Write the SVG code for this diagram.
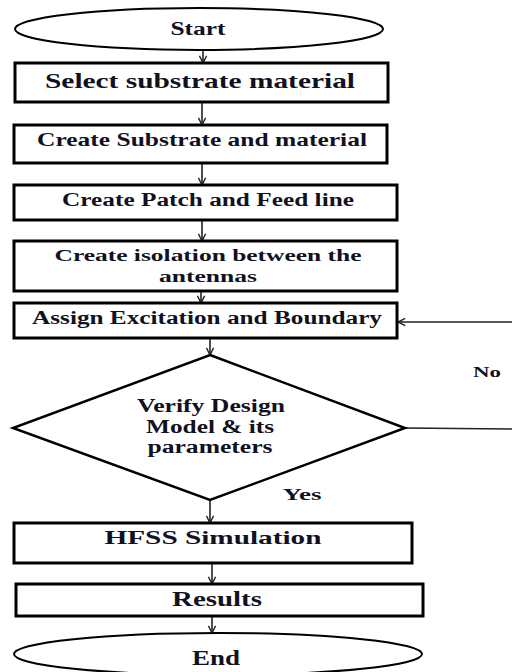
<svg xmlns="http://www.w3.org/2000/svg" width="512" height="672" viewBox="0 0 512 672">
<defs>
<marker id="ah" viewBox="0 0 10 10" refX="9" refY="5" markerWidth="9" markerHeight="9" markerUnits="userSpaceOnUse" orient="auto">
<path d="M1,1 L9,5 L1,9" fill="none" stroke="#222" stroke-width="1.6"/>
</marker>
<style>
.box{fill:#fff;stroke:#000;stroke-width:3}
.term{fill:#fff;stroke:#000;stroke-width:2}
.dia{fill:#fff;stroke:#000;stroke-width:2.5}
.t{font-family:"Liberation Serif","Times New Roman",serif;font-weight:bold;fill:#111122;text-anchor:middle}
.c{fill:none;stroke:#222;stroke-width:1.6;marker-end:url(#ah)}
.l{fill:none;stroke:#222;stroke-width:1.6}
</style>
</defs>
<rect width="512" height="672" fill="#fff"/>
<g id="connectors">
<line class="c" x1="203" y1="50" x2="203" y2="63"/>
<line class="c" x1="202" y1="102" x2="202" y2="125"/>
<line class="c" x1="202" y1="163" x2="202" y2="185"/>
<line class="c" x1="202" y1="220" x2="202" y2="241"/>
<line class="c" x1="201" y1="291" x2="201" y2="303"/>
<line class="c" x1="210" y1="338" x2="210" y2="355"/>
<line class="c" x1="210" y1="500" x2="210" y2="523"/>
<line class="c" x1="212" y1="563" x2="212" y2="584"/>
<line class="c" x1="212" y1="616" x2="212" y2="633"/>
<line class="l" x1="405" y1="428" x2="512" y2="429"/>
<line class="c" x1="512" y1="322" x2="398" y2="322"/>
<text class="t" x="487" y="377" font-size="15" textLength="28" lengthAdjust="spacingAndGlyphs">No</text>
<text class="t" x="302" y="500" font-size="17" textLength="39" lengthAdjust="spacingAndGlyphs">Yes</text>
</g>
<g id="start">
<ellipse class="term" cx="199" cy="29" rx="184" ry="21"/>
<text class="t" x="198" y="35" font-size="18" textLength="55" lengthAdjust="spacingAndGlyphs">Start</text>
</g>
<g id="select">
<rect class="box" x="15" y="63" width="373" height="39"/>
<text class="t" x="200" y="88" font-size="21" textLength="310" lengthAdjust="spacingAndGlyphs">Select substrate material</text>
</g>
<g id="substrate">
<rect class="box" x="14" y="125" width="373" height="38"/>
<text class="t" x="202" y="146" font-size="19" textLength="330" lengthAdjust="spacingAndGlyphs">Create Substrate and material</text>
</g>
<g id="patch">
<rect class="box" x="14" y="185" width="383" height="35"/>
<text class="t" x="208" y="206" font-size="18" textLength="292" lengthAdjust="spacingAndGlyphs">Create Patch and Feed line</text>
</g>
<g id="isolation">
<rect class="box" x="14" y="241" width="383" height="50"/>
<text class="t" x="208" y="261" font-size="17" textLength="307" lengthAdjust="spacingAndGlyphs">Create isolation between the</text>
<text class="t" x="208" y="282" font-size="17" textLength="98" lengthAdjust="spacingAndGlyphs">antennas</text>
</g>
<g id="assign">
<rect class="box" x="14" y="303" width="383" height="35"/>
<text class="t" x="207" y="324" font-size="18" textLength="350" lengthAdjust="spacingAndGlyphs">Assign Excitation and Boundary</text>
</g>
<g id="verify">
<polygon class="dia" points="210,355 405,428 210,500 13,428"/>
<text class="t" x="211" y="412" font-size="18" textLength="148" lengthAdjust="spacingAndGlyphs">Verify Design</text>
<text class="t" x="210" y="433" font-size="18" textLength="128" lengthAdjust="spacingAndGlyphs">Model &amp; its</text>
<text class="t" x="210" y="453" font-size="18" textLength="125" lengthAdjust="spacingAndGlyphs">parameters</text>
</g>
<g id="hfss">
<rect class="box" x="14" y="523" width="398" height="40"/>
<text class="t" x="213" y="544" font-size="19" textLength="217" lengthAdjust="spacingAndGlyphs">HFSS Simulation</text>
</g>
<g id="results">
<rect class="box" x="16" y="584" width="407" height="32"/>
<text class="t" x="217" y="606" font-size="21" textLength="90" lengthAdjust="spacingAndGlyphs">Results</text>
</g>
<g id="end">
<ellipse class="term" cx="218" cy="654" rx="204" ry="21"/>
<text class="t" x="216" y="665" font-size="21" textLength="48" lengthAdjust="spacingAndGlyphs">End</text>
</g>
</svg>
